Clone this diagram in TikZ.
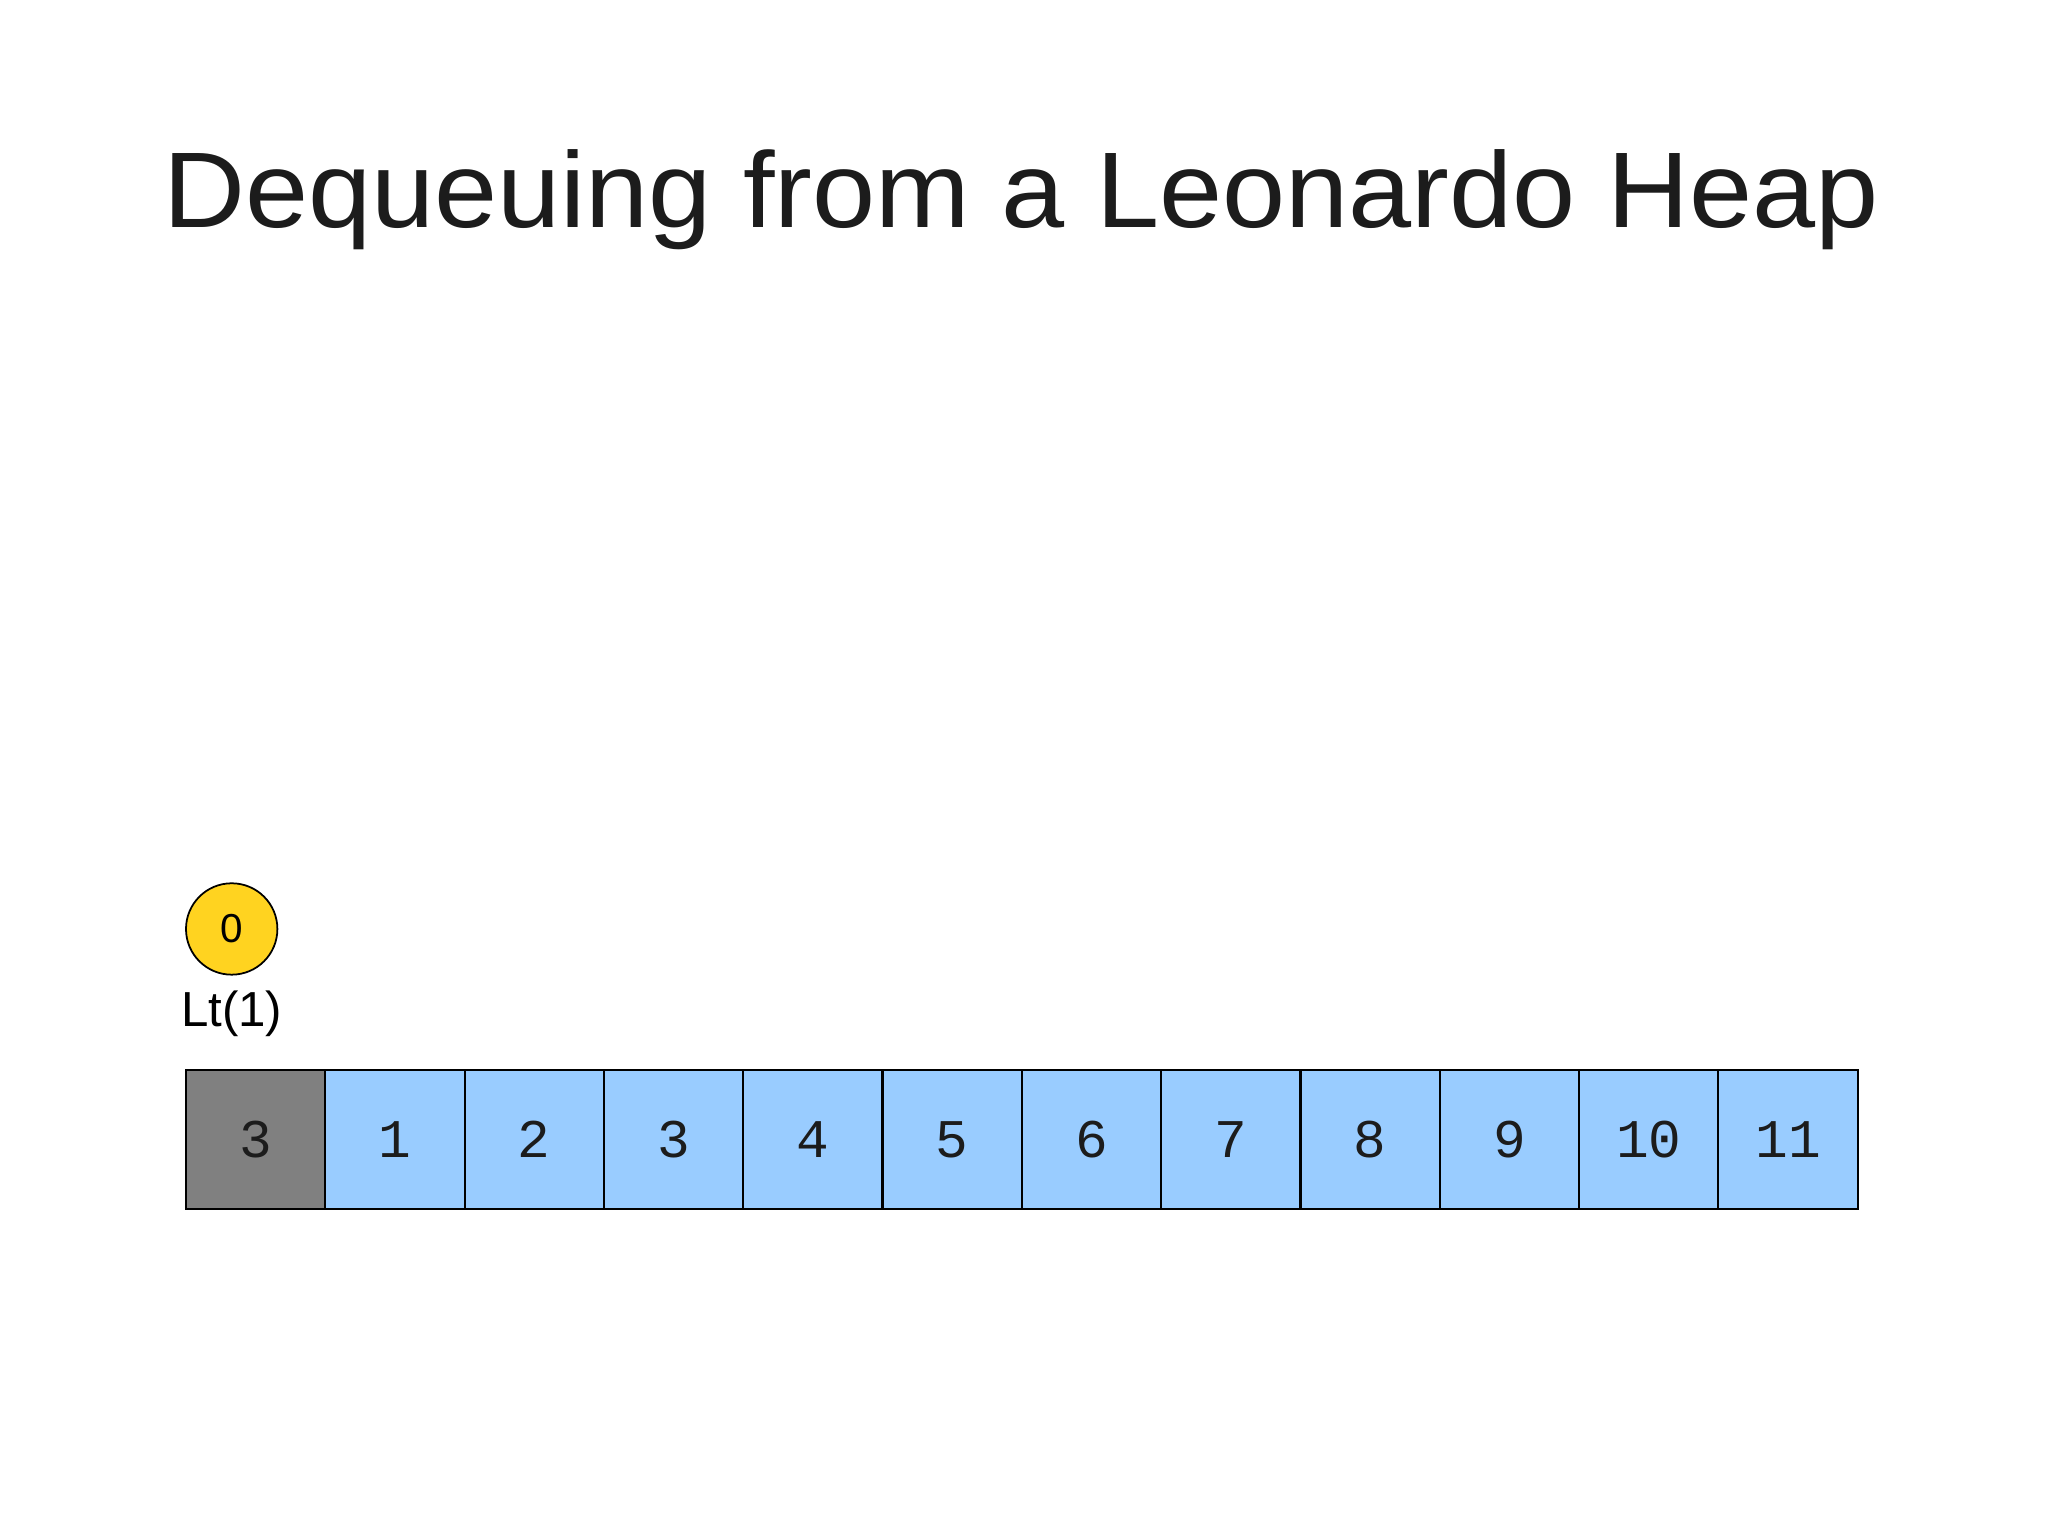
\documentclass[tikz,border=0pt]{standalone}
\usepackage{fontspec}
\setmainfont{Liberation Sans}
\newfontfamily\titlefont[FakeStretch=1.055]{Liberation Sans}
\newfontfamily\cellfont{Liberation Mono}
\definecolor{cellblue}{HTML}{99CCFF}
\definecolor{cellgray}{HTML}{808080}
\definecolor{nodegold}{HTML}{FFD320}
\definecolor{textdark}{HTML}{1C1C1C}
\begin{document}
\begin{tikzpicture}[
    font=\small,
    cell/.style={draw=black, line width=0.6pt, rectangle, minimum size=1.393cm, inner sep=0pt, fill=cellblue, font=\cellfont\fontsize{15.5}{15.5}\selectfont, text=textdark},
    usedcell/.style={cell, fill=cellgray},
    heapnode/.style={draw=black, line width=0.5pt, circle, minimum size=0.914cm, inner sep=0pt, fill=nodegold, font=\fontsize{11.5}{11.5}\selectfont},
    treelabel/.style={font=\fontsize{14}{14}\selectfont, anchor=base}
]
\useasboundingbox (0,0) rectangle (20.48,15.36);

% Title
\node[font=\titlefont\fontsize{30.6}{30.6}\selectfont, text=textdark, anchor=base] (title) at (10.21,13.08) {Dequeuing from a Leonardo Heap};

% Tree
\node[heapnode] (root) at (2.317,6.07) {0};
\node[treelabel] (ltone) at (2.317,5.093) {Lt(1)};

% Array
\node[usedcell] (c0)  at ( 2.557,3.965) {3};
\node[cell]     (c1)  at ( 3.950,3.965) {1};
\node[cell]     (c2)  at ( 5.343,3.965) {2};
\node[cell]     (c3)  at ( 6.736,3.965) {3};
\node[cell]     (c4)  at ( 8.129,3.965) {4};
\node[cell]     (c5)  at ( 9.522,3.965) {5};
\node[cell]     (c6)  at (10.915,3.965) {6};
\node[cell]     (c7)  at (12.308,3.965) {7};
\node[cell]     (c8)  at (13.701,3.965) {8};
\node[cell]     (c9)  at (15.094,3.965) {9};
\node[cell]     (c10) at (16.487,3.965) {10};
\node[cell]     (c11) at (17.880,3.965) {11};

\end{tikzpicture}
\end{document}
